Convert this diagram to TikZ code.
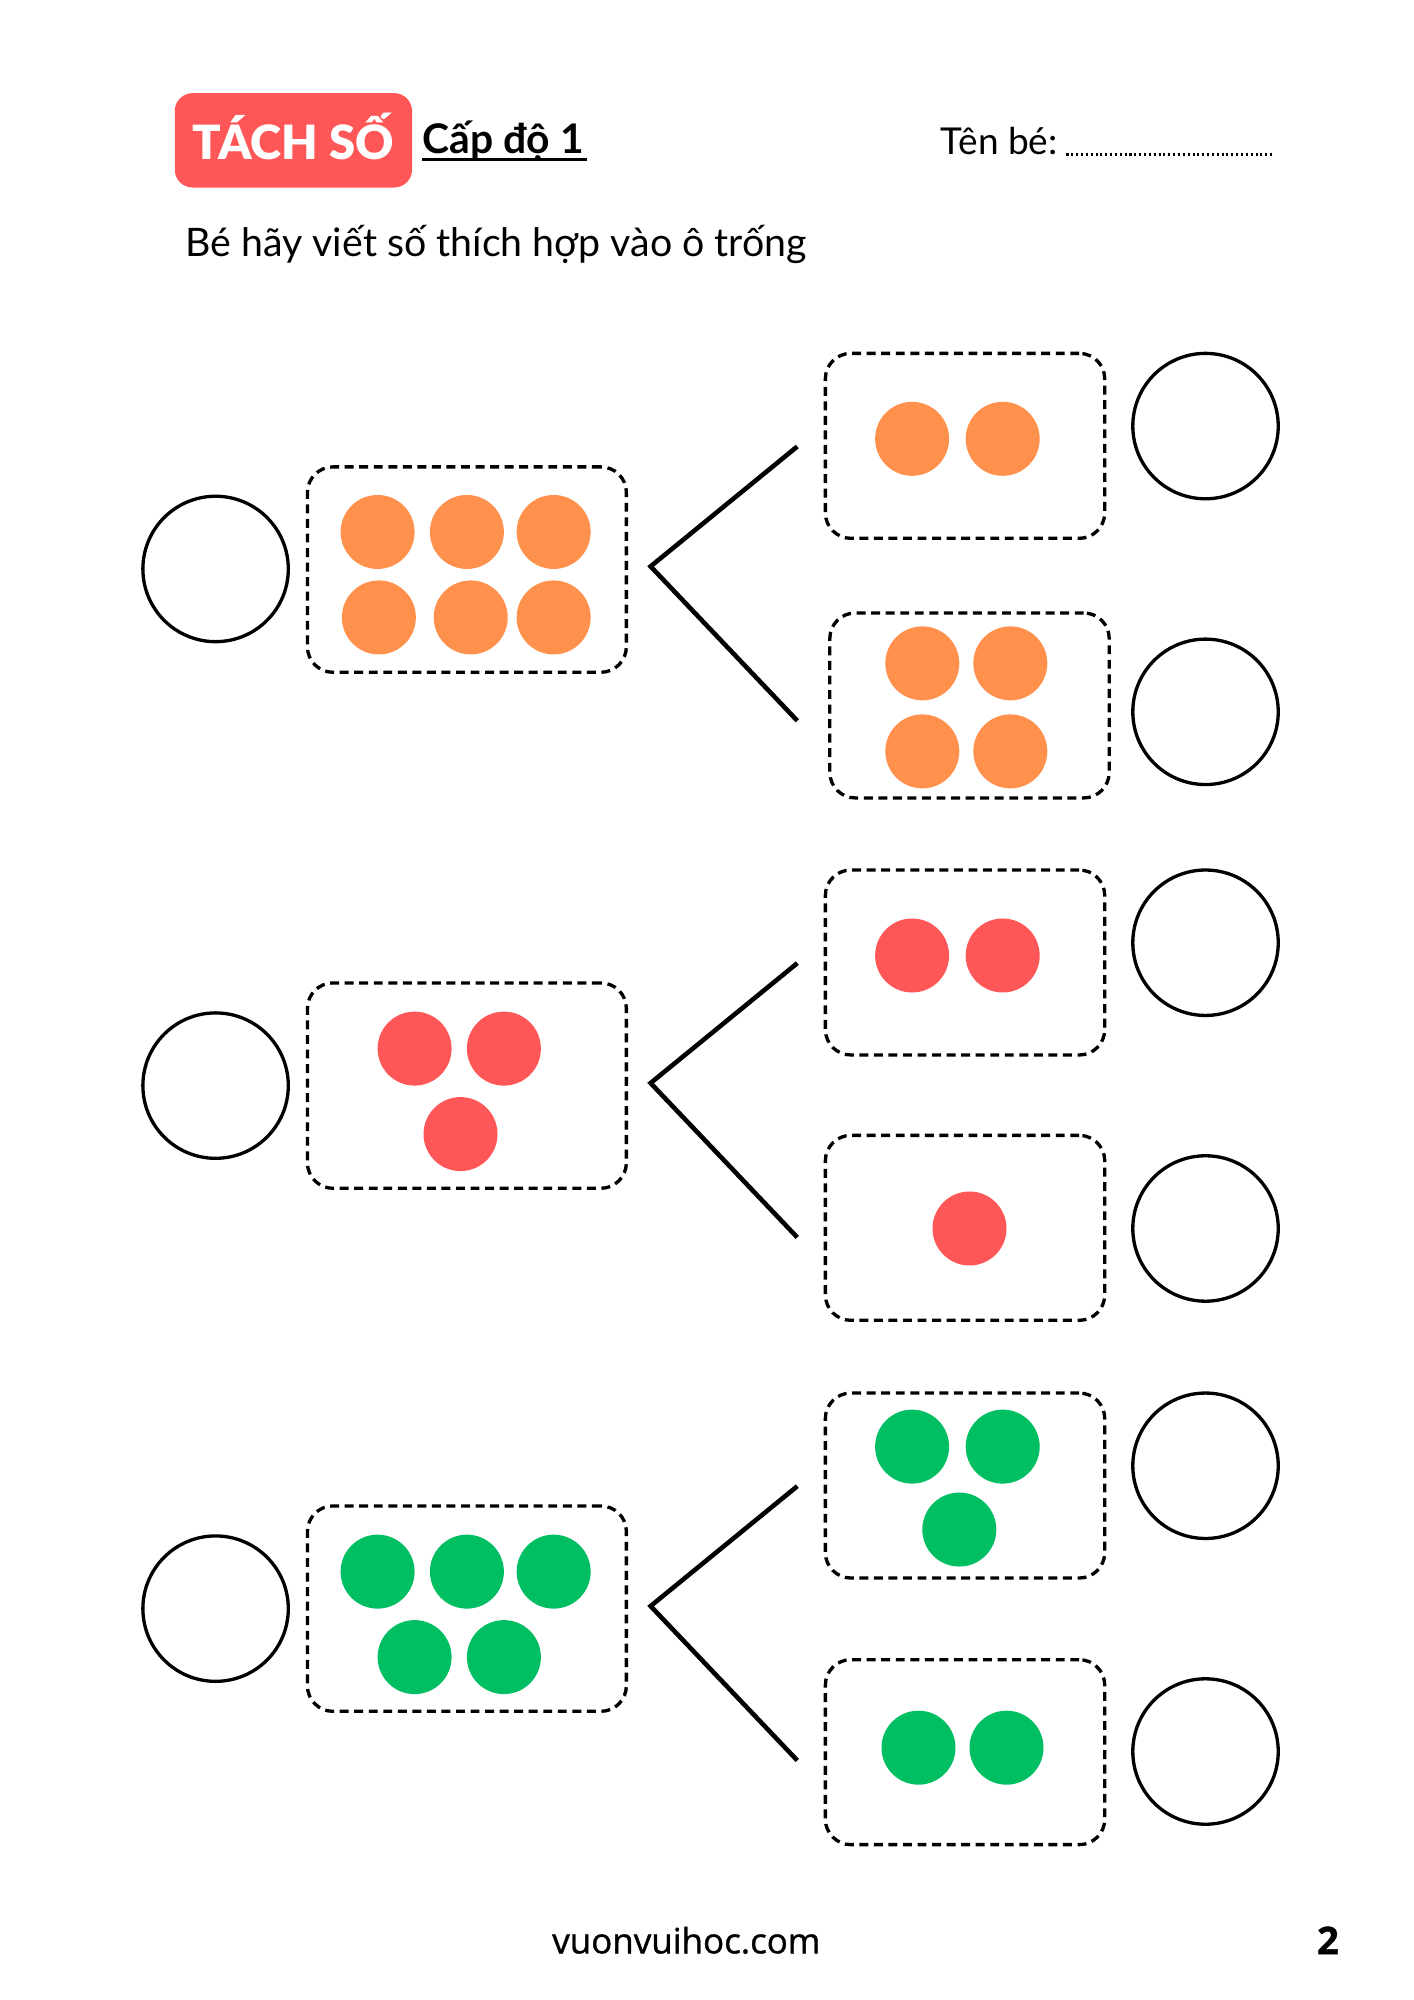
\documentclass[tikz,border=0pt]{standalone}
\usepackage{fontspec}
\setmainfont{Lato}
\newfontfamily\titlefont{Lato Black}
\newfontfamily\footfont{Open Sans}[FakeBold=1]
\definecolor{orangedot}{HTML}{FF914D}
\definecolor{reddot}{HTML}{FF5757}
\definecolor{greendot}{HTML}{00BF63}
\begin{document}
\begin{tikzpicture}[x=0.5pt,y=-0.5pt,
  answer/.style={circle,draw=black,line width=1.3pt,minimum size=57pt,inner sep=0pt},
  dot/.style={circle,fill=#1,minimum size=29pt,inner sep=0pt},
  boxline/.style={draw=black,dash pattern=on 3.5pt off 2.2pt,line width=1.3pt,rounded corners=10pt,inner sep=0pt},
  bigbox/.style={boxline,minimum width=125pt,minimum height=80.5pt},
  smallbox/.style={boxline,minimum width=109.5pt,minimum height=72.5pt},
  branch/.style={draw=black,line width=1.8pt},
  txt/.style={inner sep=0pt,anchor=base west}]
\useasboundingbox (0,0) rectangle (1108.3,1567.8);
\fill[white] (0,0) rectangle (1108.3,1567.8);

% header
\node[fill=reddot,rounded corners=7pt,minimum width=93pt,minimum height=37pt,inner sep=0pt] (title) at (230,110) {};
\node[text=white,inner sep=0pt] (titletext) at (230,107) {\titlefont\fontsize{18.5}{20}\selectfont TÁCH SỐ};
\node[txt] (level) at (331,120) {\fontsize{16}{18}\selectfont\bfseries Cấp độ 1};
\draw[line width=1.2pt] ([yshift=-2.6pt]level.base west) -- ([yshift=-2.6pt,xshift=1pt]level.base east);
\node[txt] (name) at (737,121) {\fontsize{14.5}{16}\selectfont Tên bé:};
\coordinate (dotsA) at (836,121);
\coordinate (dotsB) at (997,121);
\draw[line width=0.9pt,dash pattern=on 0.8pt off 1.1pt] (dotsA) -- (dotsB);
\node[txt] (instr) at (145,201) {\fontsize{15.4}{17}\selectfont Bé hãy viết số thích hợp vào ô trống};

% ---------- group 1 ----------
\node[answer] (c1) at (169,446) {};
\node[bigbox] (b1) at (366,446.5) {};
\node[dot=orangedot] (d11) at (296,417) {};
\node[dot=orangedot] (d12) at (366,417) {};
\node[dot=orangedot] (d13) at (434,417) {};
\node[dot=orangedot] (d14) at (297,484) {};
\node[dot=orangedot] (d15) at (369,484) {};
\node[dot=orangedot] (d16) at (434,484) {};
\coordinate (a1) at (510,444);
\coordinate (t1) at (625,350);
\coordinate (u1) at (625,565);
\draw[branch] (t1) -- (a1) -- (u1);
\node[smallbox] (bt1) at (756.5,349.5) {};
\node[dot=orangedot] (e11) at (715,344) {};
\node[dot=orangedot] (e12) at (786,344) {};
\node[answer] (ct1) at (945,334) {};
\node[smallbox] (bb1) at (760,553) {};
\node[dot=orangedot] (f11) at (723,520) {};
\node[dot=orangedot] (f12) at (792,520) {};
\node[dot=orangedot] (f13) at (723,589) {};
\node[dot=orangedot] (f14) at (792,589) {};
\node[answer] (cb1) at (945,558) {};

% ---------- group 2 ----------
\node[answer] (c2) at (169,851) {};
\node[bigbox] (b2) at (366,851) {};
\node[dot=reddot] (d21) at (325,822) {};
\node[dot=reddot] (d22) at (395,822) {};
\node[dot=reddot] (d23) at (361,889) {};
\coordinate (a2) at (510,849);
\coordinate (t2) at (625,755);
\coordinate (u2) at (625,970);
\draw[branch] (t2) -- (a2) -- (u2);
\node[smallbox] (bt2) at (756.5,754.5) {};
\node[dot=reddot] (e21) at (715,749) {};
\node[dot=reddot] (e22) at (786,749) {};
\node[answer] (ct2) at (945,739) {};
\node[smallbox] (bb2) at (756.5,962.5) {};
\node[dot=reddot] (f21) at (760,963) {};
\node[answer] (cb2) at (945,963) {};

% ---------- group 3 ----------
\node[answer] (c3) at (169,1261) {};
\node[bigbox] (b3) at (366,1261) {};
\node[dot=greendot] (d31) at (296,1232) {};
\node[dot=greendot] (d32) at (366,1232) {};
\node[dot=greendot] (d33) at (434,1232) {};
\node[dot=greendot] (d34) at (325,1299) {};
\node[dot=greendot] (d35) at (395,1299) {};
\coordinate (a3) at (510,1259);
\coordinate (t3) at (625,1165);
\coordinate (u3) at (625,1380);
\draw[branch] (t3) -- (a3) -- (u3);
\node[smallbox] (bt3) at (756.5,1164.5) {};
\node[dot=greendot] (e31) at (715,1134) {};
\node[dot=greendot] (e32) at (786,1134) {};
\node[dot=greendot] (e33) at (752,1199) {};
\node[answer] (ct3) at (945,1149) {};
\node[smallbox] (bb3) at (756.5,1373.5) {};
\node[dot=greendot] (f31) at (720,1370) {};
\node[dot=greendot] (f32) at (789,1370) {};
\node[answer] (cb3) at (945,1373) {};

% footer
\node[inner sep=0pt] (site) at (538,1521) {\footfont\fontsize{13.7}{16}\selectfont vuonvuihoc.com};
\node[inner sep=0pt] (page) at (1041,1521) {\footfont\fontsize{15}{17}\selectfont\bfseries 2};
\end{tikzpicture}
\end{document}
